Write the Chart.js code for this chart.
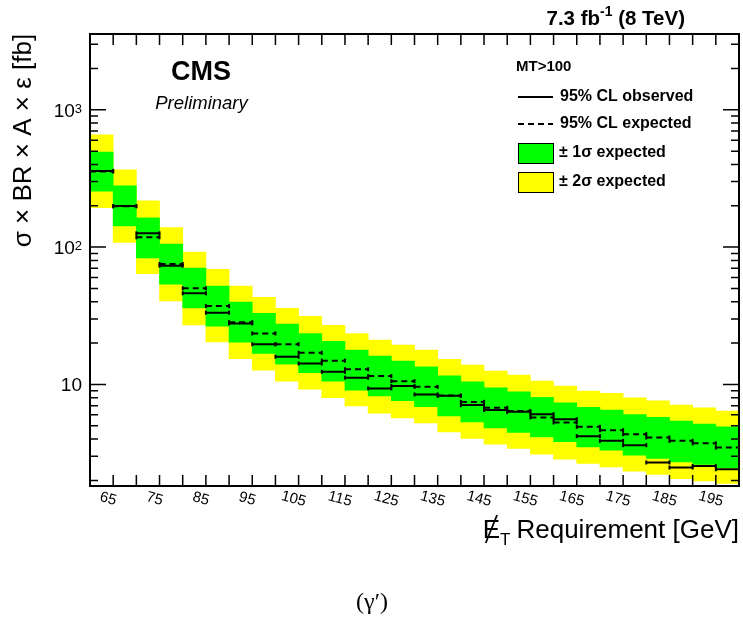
<!DOCTYPE html>
<html>
<head>
<meta charset="utf-8">
<script src="https://cdn.jsdelivr.net/npm/chart.js@4"></script>
<style>
  body { margin: 0; background: #fff; }
  canvas { display: block; }
</style>
</head>
<body>
<canvas id="limitChart" width="743" height="618"></canvas>
<script>
// Limiar de MET de cada bin (borda inferior), em GeV
const thresholds = [60, 65, 70, 75, 80, 85, 90, 95, 100, 105, 110, 115, 120, 125,
                    130, 135, 140, 145, 150, 155, 160, 165, 170, 175, 180, 185, 190, 195];
const binWidth = 5;

// Limites a 95% CL em fb
const observed = [359, 199, 126, 73.2, 46.1, 33.3, 27.8, 19.6, 15.9, 14.2, 12.35, 11.2, 9.35, 9.72,
                  8.45, 8.26, 7.07, 6.5, 6.31, 6.07, 5.58, 4.2, 3.88, 3.61, 2.70, 2.48, 2.54, 2.41];
const expected = [355, 198, 118, 75.3, 50.1, 37.2, 28.4, 23.5, 19.6, 17.0, 14.9, 12.9, 11.5, 10.56,
                  9.6, 8.3, 7.46, 6.75, 6.39, 5.75, 5.28, 4.91, 4.64, 4.34, 4.11, 3.88, 3.72, 3.47];
const sigma1Low = [255, 142.5, 83.3, 53.8, 36.0, 26.6, 20.3, 16.8, 14.06, 12.15, 10.57, 9.09, 8.26, 7.6,
                   6.87, 5.9, 5.34, 4.83, 4.47, 4.15, 3.82, 3.51, 3.32, 3.05, 2.89, 2.73, 2.61, 2.48];
const sigma1High = [493, 279, 163, 105, 70.4, 52.1, 39.8, 32.9, 27.5, 23.5, 20.6, 17.8, 16.1, 14.8,
                    13.4, 11.55, 10.45, 9.45, 8.83, 8.04, 7.34, 6.8, 6.5, 6.04, 5.75, 5.4, 5.14, 4.91];
const sigma2Low = [194, 108, 64, 40.5, 27.1, 20.4, 15.4, 12.7, 10.57, 9.24, 7.99, 6.98, 6.18, 5.71,
                   5.25, 4.5, 4.04, 3.67, 3.42, 3.10, 2.85, 2.66, 2.51, 2.33, 2.21, 2.06, 1.98, 1.9];
const sigma2High = [656, 365, 217, 138.5, 92.1, 68.9, 52.1, 43.1, 35.8, 31.3, 26.9, 23.5, 21.0, 19.3,
                    17.8, 15.2, 13.8, 12.5, 11.69, 10.57, 9.72, 8.94, 8.6, 7.99, 7.59, 7.07, 6.75, 6.39];

// Rótulos dos eixos
const xLabelValues = [65, 75, 85, 95, 105, 115, 125, 135, 145, 155, 165, 175, 185, 195];
const yMajorTicks = [10, 100, 1000];
const yMajorExponents = ['', '2', '3'];

const FONT = '"Liberation Sans", Arial, Helvetica, sans-serif';

// Um ponto por bin (no centro) para as faixas
function bandData(lo, hi) {
    return thresholds.map((t, i) => ({ x: t + binWidth / 2, y: [lo[i], hi[i]] }));
}

// Segmentos horizontais por bin, separados por null
function stepData(values) {
    const pts = [];
    thresholds.forEach((t, i) => {
        pts.push({ x: t, y: values[i] }, { x: t + binWidth, y: values[i] }, { x: t + binWidth, y: null });
    });
    return pts;
}

// Plugin que desenha moldura, marcas, rótulos e legenda no estilo ROOT
const rootStyle = {
    id: 'rootStyle',
    afterDraw(chart) {
        const ctx = chart.ctx;
        const a = chart.chartArea;
        const xs = chart.scales.x;
        const ys = chart.scales.y;
        ctx.save();
        ctx.strokeStyle = '#000';
        ctx.fillStyle = '#000';

        // marcas do eixo x (embaixo e em cima)
        ctx.lineWidth = 1.5;
        ctx.beginPath();
        thresholds.slice(1).forEach(t => {
            const px = xs.getPixelForValue(t);
            ctx.moveTo(px, a.bottom); ctx.lineTo(px, a.bottom - 11);
            ctx.moveTo(px, a.top); ctx.lineTo(px, a.top + 11);
        });
        // marcas do eixo y (esquerda e direita)
        for (let d = 0; d <= 3; d++) {
            for (let m = 1; m <= 9; m++) {
                const v = m * Math.pow(10, d);
                if (v < ys.min || v > ys.max) continue;
                const py = ys.getPixelForValue(v);
                const len = m === 1 ? 16 : 8;
                ctx.moveTo(a.left, py); ctx.lineTo(a.left + len, py);
                ctx.moveTo(a.right, py); ctx.lineTo(a.right - len, py);
            }
        }
        ctx.stroke();

        // moldura
        ctx.lineWidth = 2;
        ctx.strokeRect(a.left, a.top, a.right - a.left, a.bottom - a.top);

        // rótulos do eixo x, inclinados
        ctx.font = '15px ' + FONT;
        ctx.textAlign = 'center';
        ctx.textBaseline = 'middle';
        xLabelValues.forEach(v => {
            const px = xs.getPixelForValue(v);
            ctx.save();
            ctx.translate(px - 5, a.bottom + 13);
            ctx.rotate(15 * Math.PI / 180);
            ctx.fillText(String(v), 0, 0);
            ctx.restore();
        });

        // rótulos do eixo y (10, 10^2, 10^3)
        ctx.textAlign = 'right';
        ctx.textBaseline = 'alphabetic';
        yMajorTicks.forEach((v, i) => {
            const py = ys.getPixelForValue(v);
            const exp = yMajorExponents[i];
            let right = 82;
            if (exp) {
                ctx.font = '13px ' + FONT;
                ctx.fillText(exp, right, py + 3);
                right -= ctx.measureText(exp).width;
            }
            ctx.font = '19px ' + FONT;
            ctx.fillText('10', right, py + 7);
        });

        // título do eixo y
        ctx.save();
        ctx.translate(24, 140.5);
        ctx.rotate(-Math.PI / 2);
        ctx.textAlign = 'center';
        ctx.textBaseline = 'middle';
        ctx.font = '26px ' + FONT;
        ctx.fillText('σ × BR × A × ε [fb]', 0, 0);
        ctx.restore();

        // título do eixo x: E_T faltante
        ctx.textAlign = 'right';
        ctx.font = '26px ' + FONT;
        ctx.fillText('Requirement [GeV]', a.right, 538);
        let xr = a.right - ctx.measureText('Requirement [GeV]').width - 6;
        ctx.font = '17px ' + FONT;
        ctx.fillText('T', xr, 545);
        xr -= ctx.measureText('T').width;
        ctx.font = '26px ' + FONT;
        ctx.fillText('E', xr, 538);
        const ew = ctx.measureText('E').width;
        ctx.lineWidth = 1.8;
        ctx.beginPath();
        ctx.moveTo(xr - ew + 3, 543);
        ctx.lineTo(xr - 3, 515);
        ctx.stroke();

        // (γ′) abaixo do gráfico
        ctx.textAlign = 'center';
        ctx.font = '24px "Liberation Serif", "DejaVu Serif", serif';
        ctx.fillText('(γ′)', 372, 609);

        // título superior: 7.3 fb^-1 (8 TeV)
        ctx.textAlign = 'right';
        ctx.font = 'bold 20.5px ' + FONT;
        let tr = 685;
        ctx.fillText(' (8 TeV)', tr, 25);
        tr -= ctx.measureText(' (8 TeV)').width;
        ctx.font = 'bold 14px ' + FONT;
        ctx.fillText('-1', tr, 16);
        tr -= ctx.measureText('-1').width;
        ctx.font = 'bold 20.5px ' + FONT;
        ctx.fillText('7.3 fb', tr, 25);

        // CMS Preliminary
        ctx.textAlign = 'center';
        ctx.font = 'bold 27px ' + FONT;
        ctx.fillText('CMS', 201, 80);
        ctx.font = 'italic 18.5px ' + FONT;
        ctx.fillText('Preliminary', 201.5, 109);

        // legenda
        ctx.textAlign = 'left';
        ctx.textBaseline = 'middle';
        ctx.font = 'bold 15px ' + FONT;
        ctx.fillText('MT>100', 516, 67);
        ctx.lineWidth = 2;
        ctx.beginPath();
        ctx.moveTo(518, 97); ctx.lineTo(553, 97);
        ctx.stroke();
        ctx.setLineDash([6, 4]);
        ctx.beginPath();
        ctx.moveTo(518, 124); ctx.lineTo(553, 124);
        ctx.stroke();
        ctx.setLineDash([]);
        ctx.lineWidth = 1;
        ctx.fillStyle = '#00ff00';
        ctx.fillRect(518.5, 143.5, 35, 20);
        ctx.strokeRect(518.5, 143.5, 35, 20);
        ctx.fillStyle = '#ffff00';
        ctx.fillRect(518.5, 172.5, 35, 20);
        ctx.strokeRect(518.5, 172.5, 35, 20);
        ctx.fillStyle = '#000';
        ctx.font = 'bold 16px ' + FONT;
        ctx.fillText('95% CL observed', 560, 97);
        ctx.fillText('95% CL expected', 560, 124);
        ctx.fillText('± 1σ expected', 559, 153);
        ctx.fillText('± 2σ expected', 559, 182);

        ctx.restore();
    }
};

const capStyle = { pointStyle: 'line', rotation: 90, pointRadius: 2, pointBorderWidth: 2, pointHoverRadius: 0 };

new Chart(document.getElementById('limitChart').getContext('2d'), {
    type: 'bar',
    data: {
        datasets: [{
            type: 'line',
            label: '95% CL observed',
            data: stepData(observed),
            borderColor: '#000',
            borderWidth: 2,
            pointBorderColor: '#000',
            ...capStyle,
            order: 0
        }, {
            type: 'line',
            label: '95% CL expected',
            data: stepData(expected),
            borderColor: '#000',
            borderWidth: 2,
            borderDash: [6, 4],
            pointBorderColor: '#000',
            ...capStyle,
            order: 1
        }, {
            label: '± 1σ expected',
            data: bandData(sigma1Low, sigma1High),
            backgroundColor: '#00ff00',
            order: 2
        }, {
            label: '± 2σ expected',
            data: bandData(sigma2Low, sigma2High),
            backgroundColor: '#ffff00',
            order: 3
        }]
    },
    options: {
        responsive: false,
        animation: false,
        layout: { padding: { left: 0, top: 34, right: 2, bottom: 0 } },
        datasets: {
            bar: { grouped: false, barPercentage: 1, categoryPercentage: 1, borderWidth: 0, borderSkipped: false }
        },
        plugins: { legend: { display: false }, tooltip: { enabled: false } },
        scales: {
            x: {
                type: 'linear', min: 60, max: 200, offset: false,
                grid: { display: false }, border: { display: false }, ticks: { display: false },
                afterFit: s => { s.height = 132; }
            },
            y: {
                type: 'logarithmic', min: 1.82, max: 3565, bounds: 'data',
                grid: { display: false }, border: { display: false }, ticks: { display: false },
                afterFit: s => { s.width = 90; }
            }
        }
    },
    plugins: [rootStyle]
});
</script>
</body>
</html>
